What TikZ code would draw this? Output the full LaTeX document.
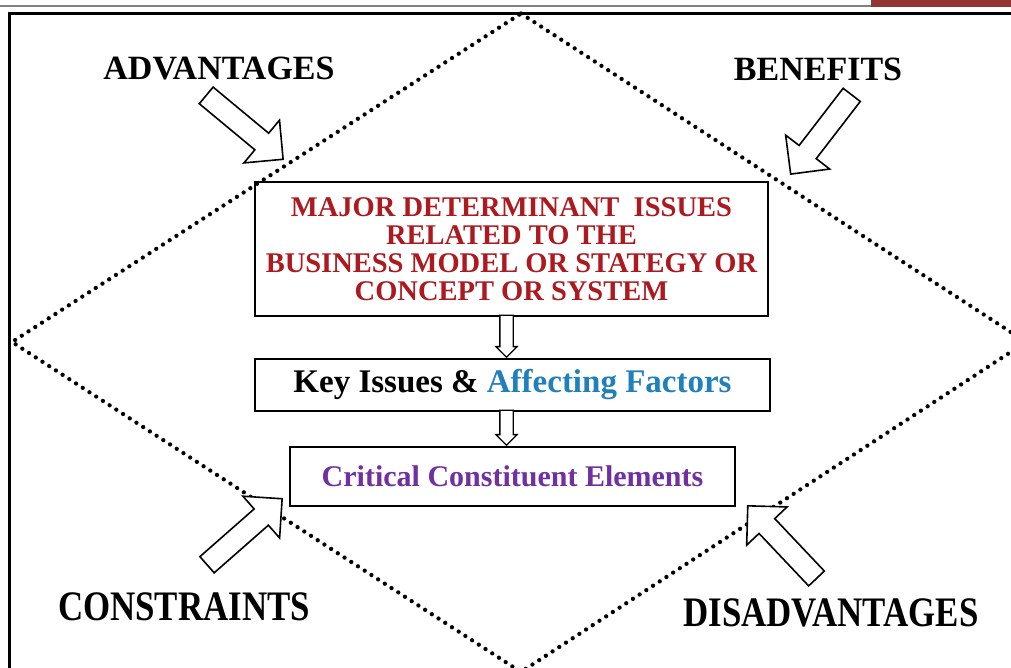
\documentclass[tikz,border=0pt]{standalone}
\usepackage{fontspec}
\setmainfont{Liberation Serif}
\usetikzlibrary{shapes.arrows}

\definecolor{tabred}{RGB}{148,54,52}
\definecolor{issuered}{RGB}{172,26,32}
\definecolor{factorblue}{RGB}{32,128,188}
\definecolor{elempurple}{RGB}{112,48,160}

\begin{document}
\begin{tikzpicture}[x=1pt, y=-1pt, every node/.style={inner sep=0pt}]
  \tikzset{box/.style={rectangle, draw=black, line width=1.6pt, align=center, font=\bfseries}}
  \tikzset{lab/.style={anchor=base, font=\bfseries\fontsize{34}{36}\selectfont}}
  \tikzset{biglab/.style={anchor=base, font=\bfseries\fontsize{42}{46}\selectfont}}
  \tikzset{blk/.style={single arrow, draw=black, line width=1.6pt, fill=white, inner xsep=0pt, inner ysep=10pt, minimum width=0pt, single arrow head extend=17pt, minimum height=100pt, anchor=tip}}
  \tikzset{sml/.style={single arrow, draw=black, line width=1.3pt, fill=white, inner xsep=0pt, inner ysep=6pt, minimum width=0pt, single arrow head extend=4pt, anchor=tip, rotate=-90}}
  \tikzset{diam/.style={draw=black, line width=4.3pt, dash pattern=on 0pt off 8pt, line cap=round}}
  \useasboundingbox (0,0) rectangle (1011,668);
  \clip (0,0) rectangle (1011,668);
  \fill[white] (0,0) rectangle (1011,668);
  % page header rule and tab
  \draw[gray, line width=2pt] (0,6) -- (871,6);
  \fill[tabred] (871,0) rectangle (1011,7.5);
  % frame
  \draw[black, line width=3.5pt] (9.5,700) -- (9.5,13.5) -- (1040,13.5);
  % dotted diamond
  \coordinate (dtop) at (521,13.5);
  \coordinate (dright) at (1026,342);
  \coordinate (dbot) at (521,672);
  \coordinate (dleft) at (12,342);
  \draw[diam] (dtop) -- (dright) -- (dbot) -- (dleft) -- cycle;
  % boxes
  \node[box, text=issuered, minimum width=513pt, minimum height=134pt, font=\bfseries\fontsize{28.5}{28}\selectfont] (box0) at (511.5,249)
    {MAJOR DETERMINANT\ \ ISSUES\\RELATED TO THE\\BUSINESS MODEL OR STATEGY OR\\CONCEPT OR SYSTEM};
  \node[box, minimum width=515pt, minimum height=52pt, font=\bfseries\fontsize{33}{36}\selectfont] (box1) at (512.5,385)
    {Key Issues \& \textcolor{factorblue}{Affecting Factors}};
  \node[box, text=elempurple, minimum width=445pt, minimum height=59pt, font=\bfseries\fontsize{30}{33}\selectfont] (box2) at (512.5,476.5)
    {Critical Constituent Elements};
  % links between boxes
  \node[sml, minimum height=42pt] (arr0) at ([xshift=-6pt]box1.north) {};
  \node[sml, minimum height=35pt] (arr1) at ([xshift=-6pt]box2.north) {};
  % outside labels
  \node[lab] (lab0) at (219,80) {ADVANTAGES};
  \node[lab] (lab1) at (818,81) {BENEFITS};
  \node[biglab] (lab2) at (184,620) {\scalebox{0.83}[1]{CONSTRAINTS}};
  \node[biglab] (lab3) at (831,626) {\scalebox{0.83}[1]{DISADVANTAGES}};
  % block arrows
  \node[blk, rotate=-39.7] (blk0) at (284,160) {};
  \node[blk, rotate=-127.6] (blk1) at (790,175) {};
  \node[blk, rotate=41.3] (blk2) at (283,498) {};
  \node[blk, rotate=133.4] (blk3) at (747,505) {};
\end{tikzpicture}
\end{document}
